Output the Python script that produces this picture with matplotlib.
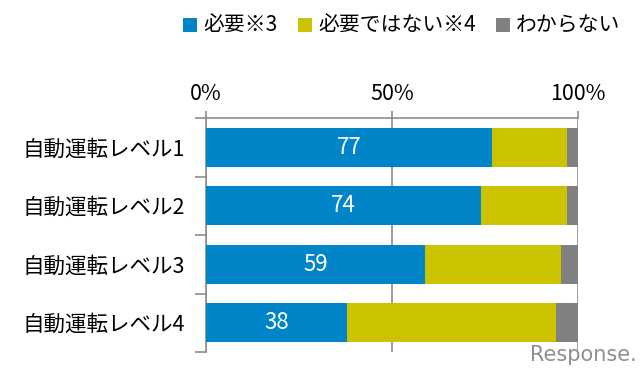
"""Stacked horizontal bars: need for driver training by automation level."""

import matplotlib

matplotlib.use("Agg")
import matplotlib.pyplot as plt
import numpy as np

plt.rcParams["font.family"] = ["Noto Sans CJK JP", "DejaVu Sans"]

categories = ["自動運転レベル1", "自動運転レベル2", "自動運転レベル3", "自動運転レベル4"]
series_names = ["必要※3", "必要ではない※4", "わからない"]
needed = [77, 74, 59, 38]
not_needed = [20, 23, 36.5, 56]
unknown = [3, 3, 4.5, 6]
colors = ["#0085C8", "#CCC300", "#808080"]

fig = plt.figure(figsize=(6.4, 3.74), dpi=100)
ax = fig.add_axes([206 / 640, 1 - 352 / 374, 372 / 640, 234 / 374])

y = np.arange(len(categories))
left = np.zeros(len(categories))
for name, vals, col in zip(series_names, [needed, not_needed, unknown], colors):
    ax.barh(y, vals, left=left, height=0.66, color=col, label=name, zorder=3)
    left += np.array(vals)

for yi, v in zip(y, needed):
    ax.text(v / 2, yi, str(v), ha="center", va="center", color="white",
            fontsize=16, zorder=4)

ax.set_xlim(0, 100)
ax.set_ylim(len(categories) - 0.5, -0.5)

# percent labels on top
ax.xaxis.tick_top()
ax.set_xticks([0, 50, 100])
ax.set_xticklabels(["0%", "50%", "100%"], fontsize=15.5)
ax.tick_params(axis="x", length=5, color="#8c8c8c", width=1.2, pad=4)
ax.grid(axis="x", color="#8c8c8c", linewidth=1.2, zorder=0)

# category labels with separator ticks
ax.set_yticks(y)
ax.set_yticklabels(categories, fontsize=15.5)
ax.set_yticks(np.arange(-0.5, len(categories)), minor=True)
ax.tick_params(axis="y", which="major", length=0, pad=15)
ax.tick_params(axis="y", which="minor", length=8, color="#8c8c8c", width=1.2)

for side in ["right", "bottom"]:
    ax.spines[side].set_visible(False)
for side in ["left", "top"]:
    ax.spines[side].set_color("#8c8c8c")
    ax.spines[side].set_linewidth(1.2)

fig.legend(loc="center", bbox_to_anchor=(402 / 640, 1 - 26 / 374), ncol=3,
           frameon=False, fontsize=15, handlelength=0.65, handleheight=0.65,
           handletextpad=0.3, columnspacing=1.0)

fig.text(0.995, 0.05, "Response.", ha="right", va="center", color="#8f8f8f",
         fontsize=15, family="DejaVu Sans")

fig.savefig("out.png", dpi=100)
